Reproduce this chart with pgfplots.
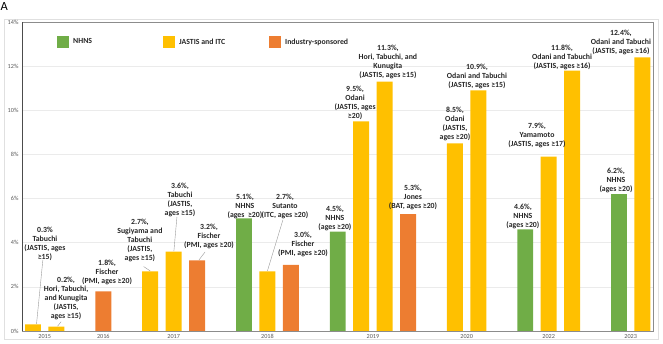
\documentclass[border=0pt]{standalone}
\usepackage{fontspec}
\setmainfont{Carlito}
\usepackage{pgfplots}
\pgfplotsset{compat=1.18}
\usepackage{pgfplotstable}

\definecolor{nhns}{HTML}{70AD47}
\definecolor{jastis}{HTML}{FFC000}
\definecolor{industry}{HTML}{ED7D31}
\definecolor{lbl}{HTML}{262626}

\tikzset{
  lab/.style={font=\fontsize{7.8}{9}\selectfont\bfseries, text=lbl, align=center, inner sep=0pt},
  lead/.style={draw=black!40, line width=0.4pt},
}

% slot index, prevalence (%)
\pgfplotstableread{
x y
9 5.1
13 4.5
21 4.6
25 6.2
}\nhnsdata
\pgfplotstableread{
x y
0 0.3
1 0.2
5 2.7
6 3.6
10 2.7
14 9.5
15 11.3
18 8.5
19 10.9
22 7.9
23 11.8
26 12.4
}\jastisdata
\pgfplotstableread{
x y
3 1.8
7 3.2
11 3.0
16 5.3
}\industrydata

\newcommand{\yr}[2]{\raisebox{#1}{#2}}

\begin{document}
\begin{tikzpicture}
\useasboundingbox (0,0) rectangle (663pt,344pt);
% chart area border
\draw[black!12, line width=0.8pt] (4pt,5pt) rectangle (658pt,325pt);
\node[anchor=north west, inner sep=0pt, font=\fontsize{12.5}{14}\selectfont] at (0.5pt,342pt) {A};
\begin{axis}[
  at={(22pt,13pt)}, anchor=south west,
  scale only axis, width=631pt, height=309pt,
  xmin=-0.47, xmax=26.45, ymin=0, ymax=14,
  ybar, bar width=0.68, bar shift=0pt,
  ytick={0,2,...,14},
  yticklabel={\pgfmathprintnumber{\tick}\%},
  xtick={0.5,3,6,10,14.5,18.5,22,25.5},
  xticklabels={\yr{-3.5pt}{2015},\yr{0pt}{2016},\yr{0pt}{2017},\yr{0pt}{2018},\yr{-3pt}{2019},\yr{-3pt}{2020},\yr{-1pt}{2022},\yr{-3.5pt}{2023}},
  /pgf/number format/assume math mode=true,
  tick label style={font=\fontsize{6.2}{7}\selectfont, text=black!65},
  major tick length=0pt,
  ymajorgrids, grid style={black!8, line width=0.6pt},
  axis line style={black!45, line width=0.8pt},
  clip=false,
  legend columns=3,
  legend image code/.code={\fill[#1] (0pt,-6pt) rectangle (12pt,6pt);},
  legend style={at={(axis description cs:0.0555,0.955)}, anchor=north west,
    draw=none, fill=none, inner sep=0pt,
    font=\fontsize{7.8}{9}\selectfont\bfseries, text=lbl,
    nodes={inner sep=0pt},
    /tikz/every odd column/.style={column sep=4pt}},
]
\addplot[fill=nhns, draw=none] table[x=x, y=y] {\nhnsdata};
\addlegendentry{\makebox[90pt][l]{NHNS}}
\addplot[fill=jastis, draw=none] table[x=x, y=y] {\jastisdata};
\addlegendentry{\makebox[90pt][l]{JASTIS and ITC}}
\addplot[fill=industry, draw=none] table[x=x, y=y] {\industrydata};
\addlegendentry{Industry-sponsored}

% darker left axis line
\draw[black!70, line width=0.9pt] (rel axis cs:0,0) -- (rel axis cs:0,1);

% value labels
\node[lab] at (axis cs:0.51,3.96) {0.3\%\\Tabuchi\\(JASTIS, ages\\≥15)};
\draw[lead] (axis cs:0.42,3.22) -- (axis cs:0.15,0.32);
\node[lab] at (axis cs:1.41,1.47) {0.2\%,\\Hori, Tabuchi,\\and Kunugita\\(JASTIS,\\ages ≥15)};
\draw[lead] (axis cs:1.2,0.42) -- (axis cs:1.05,0.22);
\node[lab] at (axis cs:3.16,2.63) {1.8\%,\\Fischer\\(PMI, ages ≥20)};
\node[lab] at (axis cs:4.56,4.12) {2.7\%,\\Sugiyama and\\Tabuchi\\(JASTIS,\\ages ≥15)};
\draw[lead] (axis cs:4.72,2.92) -- (axis cs:5.0,2.72);
\node[lab] at (axis cs:6.27,5.94) {3.6\%,\\Tabuchi\\(JASTIS,\\ages ≥15)};
\draw[lead] (axis cs:6.14,5.17) -- (axis cs:6.01,3.62);
\node[lab] at (axis cs:7.51,4.30) {3.2\%,\\Fischer\\(PMI, ages ≥20)};
\draw[lead] (axis cs:7.08,3.22) -- (axis cs:7.34,3.58);
\node[lab] at (axis cs:9.04,5.66) {5.1\%,\\NHNS\\(ages \ ≥20)};
\node[lab] at (axis cs:10.75,5.62) {2.7\%,\\Sutanto\\(ITC, ages ≥20)};
\draw[lead] (axis cs:10.66,5.03) -- (axis cs:10.0,2.72);
\node[lab] at (axis cs:11.52,3.90) {3.0\%,\\Fischer\\(PMI, ages ≥20)};
\node[lab] at (axis cs:12.88,5.12) {4.5\%,\\NHNS\\(ages ≥20)};
\node[lab] at (axis cs:13.74,10.33) {9.5\%,\\Odani\\(JASTIS, ages\\≥20)};
\node[lab] at (axis cs:15.14,12.19) {11.3\%,\\Hori, Tabuchi, and\\Kunugita\\(JASTIS, ages ≥15)};
\node[lab] at (axis cs:16.21,6.03) {5.3\%,\\Jones\\(BAT, ages ≥20)};
\node[lab] at (axis cs:18.0,9.36) {8.5\%,\\Odani\\(JASTIS,\\ages ≥20)};
\node[lab] at (axis cs:18.94,11.51) {10.9\%,\\Odani and Tabuchi\\(JASTIS, ages ≥15)};
\node[lab] at (axis cs:20.9,5.21) {4.6\%,\\NHNS\\(ages ≥20)};
\node[lab] at (axis cs:21.5,8.84) {7.9\%,\\Yamamoto\\(JASTIS, ages ≥17)};
\node[lab] at (axis cs:22.57,12.39) {11.8\%,\\Odani and Tabuchi\\(JASTIS, ages ≥16)};
\node[lab] at (axis cs:24.87,6.80) {6.2\%,\\NHNS\\(ages ≥20)};
\node[lab] at (axis cs:25.08,13.05) {12.4\%,\\Odani and Tabuchi\\(JASTIS, ages ≥16)};
\end{axis}
\end{tikzpicture}
\end{document}
